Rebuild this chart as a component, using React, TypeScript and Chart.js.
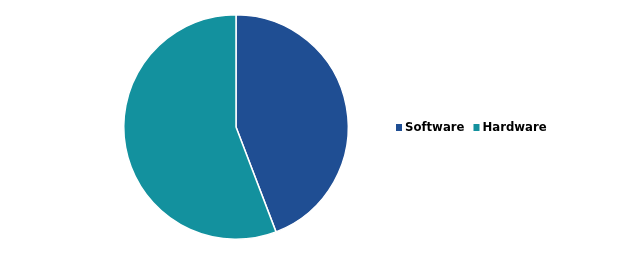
import React, { useEffect, useRef } from "react";
import { Chart, registerables } from "chart.js";

Chart.register(...registerables);

const categories = ["Software", "Hardware"];
const values = [44.2, 55.8];
const colors = ["#1F4E93", "#13919E"];

const customLegend = {
  id: "customLegend",
  afterDraw(chart: any) {
    const ctx = chart.ctx;
    const labels = chart.data.labels as string[];
    const bg = chart.data.datasets[0].backgroundColor as string[];
    ctx.save();
    ctx.font = "bold 11.7px 'DejaVu Sans'";
    ctx.textBaseline = "middle";
    let x = 396;
    const y = 127.5;
    labels.forEach((lab, i) => {
      ctx.fillStyle = bg[i];
      ctx.fillRect(x, y - 3.5, 6, 7);
      ctx.fillStyle = "#000000";
      ctx.fillText(lab, x + 9, y);
      x += 9 + ctx.measureText(lab).width + 9;
    });
    ctx.restore();
  },
};

export default function App() {
  const ref = useRef<HTMLCanvasElement>(null);
  useEffect(() => {
    if (!ref.current) return;
    const chart = new Chart(ref.current, {
      type: "pie",
      data: {
        labels: categories,
        datasets: [
          {
            data: values,
            backgroundColor: colors,
            borderColor: "#FFFFFF",
            borderWidth: 1.5,
          },
        ],
      },
      options: {
        animation: false,
        responsive: false,
        maintainAspectRatio: false,
        layout: { padding: { left: 123, right: 271, top: 13, bottom: 15 } },
        plugins: {
          legend: { display: false },
          tooltip: { enabled: false },
        },
      },
      plugins: [customLegend],
    });
    return () => chart.destroy();
  }, []);
  return (
    <div style={{ position: "fixed", left: 0, top: 0, width: 620, height: 256, background: "#fff" }}>
      <canvas ref={ref} width={620} height={256} style={{ width: 620, height: 256 }} />
    </div>
  );
}
